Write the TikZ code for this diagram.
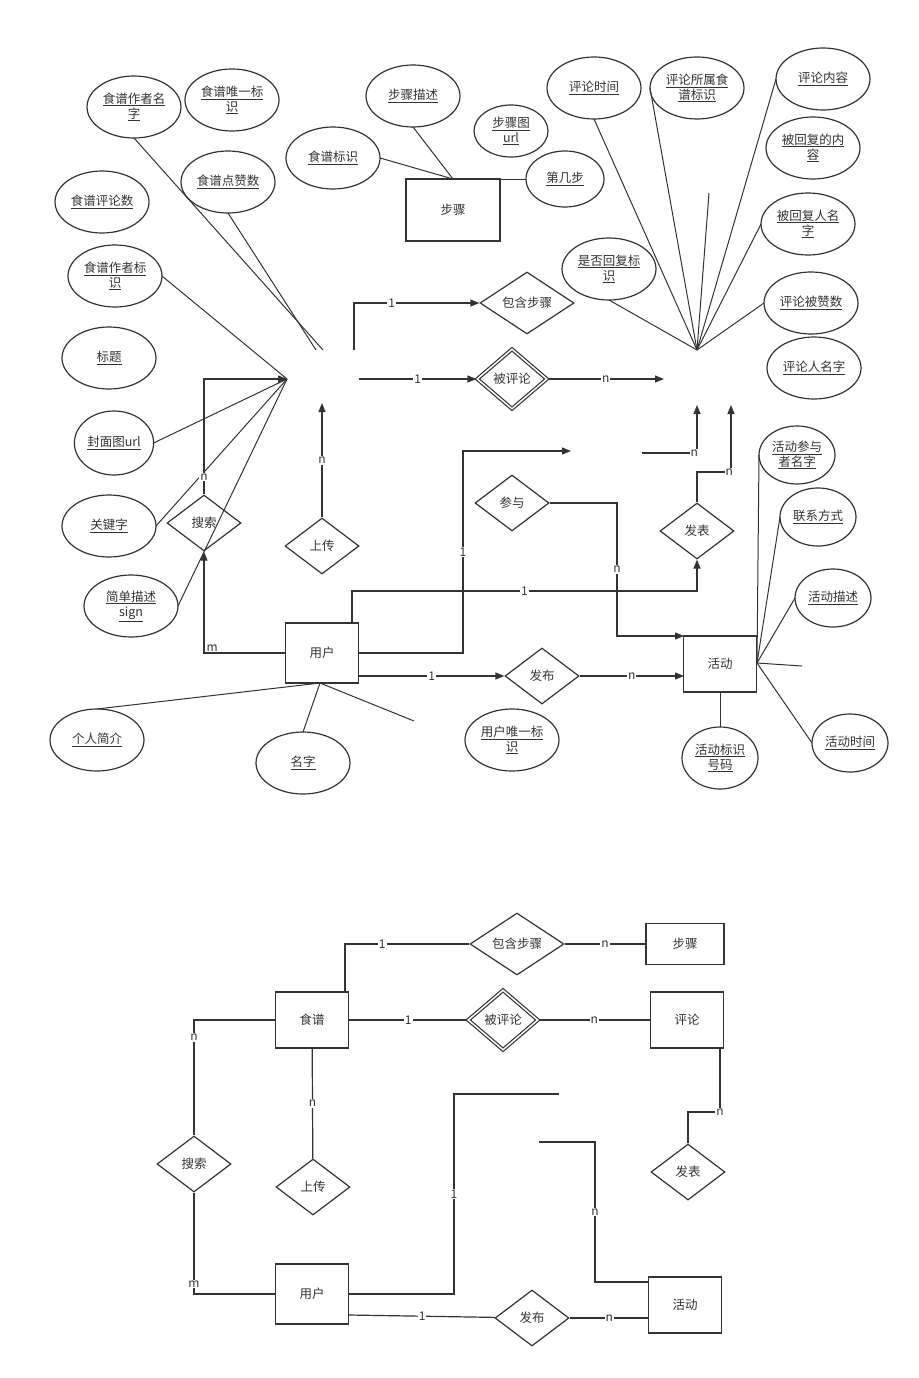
\documentclass[tikz,border=0pt]{standalone}
\usepackage{fontspec}
\setmainfont{Noto Sans CJK SC}
\usetikzlibrary{shapes.geometric,arrows.meta}
\newcommand{\ulx}[1]{\underline{#1}}
\begin{document}
\begin{tikzpicture}[x=1pt,y=-1pt,font=\fontsize{12.5}{15}\selectfont,
 line width=1.2pt, color={black!80},
 attr/.style={ellipse,draw,inner sep=0pt,outer sep=0pt,minimum width=94pt,minimum height=62pt,align=center,text width=64pt},
 sattr/.style={attr,minimum width=76pt,minimum height=58pt,text width=52pt},
 ent/.style={draw,minimum width=73pt,minimum height=58pt,inner sep=0pt},
 rel/.style={diamond,draw,aspect=1.32,inner sep=0pt,minimum width=74pt,minimum height=56pt},
 wrel/.style={rel,minimum width=94pt,minimum height=62pt,aspect=1.5},
 drel/.style={rel,double,double distance=1.5pt,minimum width=70pt,minimum height=60pt,aspect=1.15},
 ar/.style={-{Triangle[length=9pt,width=7pt]}},
 ln/.style={line width=1pt},
 lb/.style={fill=white,inner sep=1pt,font=\fontsize{12}{13}\selectfont}]
\useasboundingbox (0,0) rectangle (918,1378);
% ===== top part attributes
\node[attr] (a1) at (134,107) {\ulx{食谱作者名}\\\ulx{字}};
\node[attr] (a2) at (232,100) {\ulx{食谱唯一标}\\\ulx{识}};
\node[attr] (a3) at (228,182) {\ulx{食谱点赞数}};
\node[attr] (a4) at (102,202) {\ulx{食谱评论数}};
\node[attr] (a5) at (115,276) {\ulx{食谱作者标}\\\ulx{识}};
\node[attr] (a6) at (109,358) {\ulx{标题}};
\node[sattr,minimum width=78pt,minimum height=64pt,text width=56pt] (a7) at (114,443) {\ulx{封面图url}};
\node[attr] (a8) at (109,526) {\ulx{关键字}};
\node[attr] (a9) at (131,606) {\ulx{简单描述}\\\ulx{sign}};
\node[attr] (b1) at (413,96) {\ulx{步骤描述}};
\node[attr] (b2) at (333,158) {\ulx{食谱标识}};
\node[sattr,minimum height=52pt,minimum width=74pt] (b3) at (511,131) {\ulx{步骤图}\\\ulx{url}};
\node[sattr,minimum width=78pt,minimum height=56pt] (b4) at (565,179) {\ulx{第几步}};
\node[ent,minimum width=94pt,minimum height=62pt] (bu) at (453,210) {步骤};
\node[attr] (c1) at (594,88) {\ulx{评论时间}};
\node[attr] (c2) at (697,88) {\ulx{评论所属食}\\\ulx{谱标识}};
\node[attr] (c3) at (823,79) {\ulx{评论内容}};
\node[attr] (c4) at (813,148) {\ulx{被回复的内}\\\ulx{容}};
\node[attr] (c5) at (808,224) {\ulx{被回复人名}\\\ulx{字}};
\node[attr] (c6) at (609,269) {\ulx{是否回复标}\\\ulx{识}};
\node[attr] (c7) at (811,303) {\ulx{评论被赞数}};
\node[attr] (c8) at (814,368) {\ulx{评论人名字}};
\node[wrel] (r1) at (527,303) {包含步骤};
\node[drel] (r2) at (512,379) {被评论};
\node[rel] (r3) at (204,523) {搜索};
\node[rel] (r4) at (322,546) {上传};
\node[rel] (r5) at (512,503) {参与};
\node[rel] (r6) at (697,531) {发表};
\node[rel] (r7) at (542,676) {发布};
\node[ent,minimum height=60pt] (u) at (322,653) {用户};
\node[ent,minimum height=56pt] (h) at (720,664) {活动};
\node[attr] (u1) at (97,740) {\ulx{个人简介}};
\node[attr] (u2) at (303,763) {\ulx{名字}};
\node[attr] (u3) at (512,740) {\ulx{用户唯一标}\\\ulx{识}};
\node[sattr,minimum height=62pt] (h1) at (720,758) {\ulx{活动标识}\\\ulx{号码}};
\node[sattr] (h2) at (850,743) {\ulx{活动时间}};
\node[sattr] (h3) at (833,598) {\ulx{活动描述}};
\node[sattr] (h4) at (818,517) {\ulx{联系方式}};
\node[sattr] (h5) at (797,455) {\ulx{活动参与}\\\ulx{者名字}};
% free points
\coordinate (fa) at (323,350); \coordinate (fb) at (287,379);
\coordinate (fc) at (697,350);
\coordinate (st) at (453,179); \coordinate (st2) at (472,179);
% recipe attribute lines
\draw[ln] (a1.south) -- (fa); \draw[ln] (a3.south) -- (316,350);
\draw[ln] (a5.east) -- (fb);
\foreach \n in {a7,a8,a9} \draw[ln] (\n.east) -- (fb);
\draw[ln] (b1.south) -- (st); \draw[ln] (b2.east) -- (st); \draw[ln] (b4.west) -- (st2);
\foreach \n in {c1,c6} \draw[ln] (\n.south) -- (fc);
\foreach \n in {c3,c5,c7} \draw[ln] (\n.west) -- (fc);
\draw[ln] (c2.west) -- (fc);
\draw[ln] (fc) -- (709,193);
% relations
\draw[ar] (354,350) -- (354,303) -- node[lb,pos=0.3]{1} (r1);
\draw[ar] (359,379) -- node[lb]{1} (r2);
\draw[ar] (r2) -- node[lb]{n} (664,379);
\draw[ar] (r3) -- (204,379) node[lb,pos=0.15]{n} -- (fb);
\draw[ar] (u.west|-0,653) -- (204,653) node[lb,pos=0.9,above]{m} -- (r3);
\draw[ar] (r4) -- node[lb]{n} (322,403);
\draw[ar] (642,453) -- (697,453) node[lb,pos=0.95]{n} -- (697,405);
\draw[ar] (r6) -- (697,472) -- (731,472) node[lb,pos=0.95]{n} -- (731,405);
\draw[ar] (359,653) -- (463,653) -- (463,451) node[lb,pos=0.5]{1} -- (571,451);
\draw[ar] (352,623) -- (352,591) -- (697,591) node[lb,pos=0.5]{1} -- (r6);
\draw[ar] (r5) -- (617,503) -- (617,636) node[lb,pos=0.5]{n} -- (684,636);
\draw[ar] (359,676) -- node[lb]{1} (r7);
\draw[ar] (r7) -- node[lb]{n} (684,676);
\coordinate (ub) at (320,683);
\draw[ln] (ub) -- (u1.north); \draw[ln] (ub) -- (u2.north); \draw[ln] (ub) -- (414,721);
\draw[ln] (h) -- (h1);
\coordinate (hr) at (757,663);
\foreach \n in {h2,h3,h4,h5} \draw[ln] (hr) -- (\n.west);
\draw[ln] (hr) -- (802,666);
% ===== bottom part
\node[ent,minimum height=56pt] (F) at (312,1020) {食谱};
\node[ent,minimum width=78pt,minimum height=41pt] (B) at (685,944) {步骤};
\node[ent,minimum height=56pt] (P) at (687,1020) {评论};
\node[wrel] (R1) at (517,944) {包含步骤};
\node[drel] (R2) at (503,1020) {被评论};
\node[rel] (R3) at (194,1164) {搜索};
\node[rel] (R4) at (313,1187) {上传};
\node[rel] (R6) at (688,1172) {发表};
\node[rel] (R7) at (532,1318) {发布};
\node[ent,minimum height=60pt] (U) at (312,1294) {用户};
\node[ent,minimum height=56pt] (H) at (685,1305) {活动};
\draw (345,992) -- (345,944) -- node[lb,pos=0.3]{1} (R1);
\draw (R1) -- node[lb]{n} (B);
\draw (F) -- node[lb]{1} (R2);
\draw (R2) -- node[lb]{n} (P);
\draw (F.west) -- (194,1020) -- node[lb,pos=0.15]{n} (R3);
\draw (R3) -- (194,1294) node[lb,pos=0.9]{m} -- (U.west);
\draw (F) -- node[lb]{n} (R4);
\draw (720,1048) -- (720,1112) node[lb,pos=1]{n} -- (688,1112) -- (R6);
\draw (349,1294) -- (454,1294) -- (454,1094) node[lb,pos=0.5]{1} -- (559,1094);
\draw (539,1142) -- (595,1142) -- (595,1282) node[lb,pos=0.5]{n} -- (649,1282);
\draw (349,1315) -- node[lb]{1} (R7);
\draw (R7) -- node[lb]{n} (649,1318);
\end{tikzpicture}
\end{document}
